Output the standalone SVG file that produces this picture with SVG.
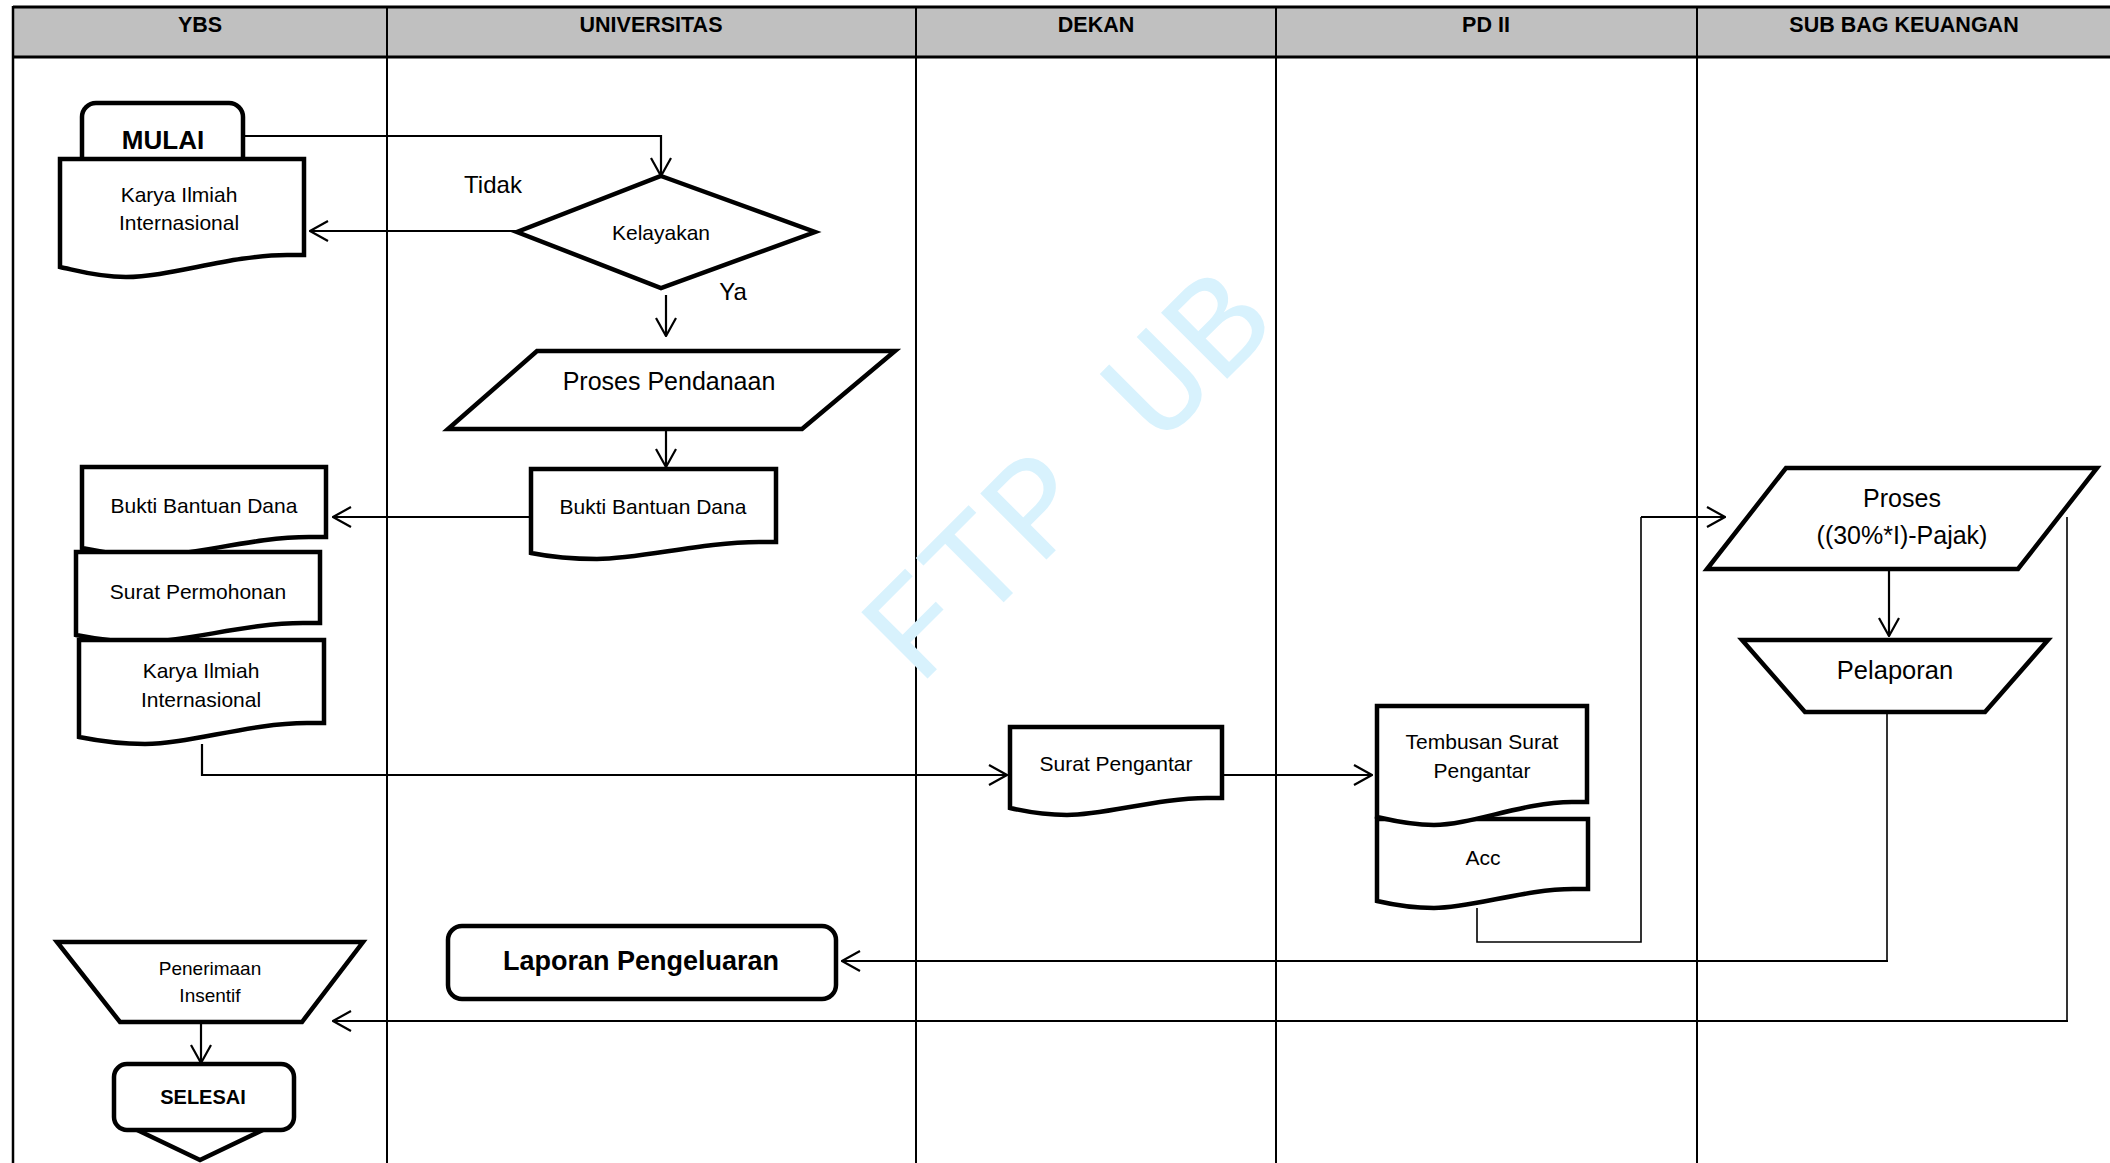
<svg xmlns="http://www.w3.org/2000/svg" width="2110" height="1163" viewBox="0 0 2110 1163">
<defs>
<marker id="arr" viewBox="0 0 20 22" refX="19" refY="11" markerWidth="20" markerHeight="22" markerUnits="userSpaceOnUse" orient="auto">
<path d="M1,1 L19,11 L1,21" fill="none" stroke="#000" stroke-width="2.2"/>
</marker>
<style>
.shape{fill:#fff;stroke:#000;stroke-width:4.5;stroke-linejoin:miter}
.lane{stroke:#000;stroke-width:2;fill:none}
.conn{fill:none;stroke:#000;stroke-width:2.2}
.thin{fill:none;stroke:#000;stroke-width:1.6}
.t{font-family:"Liberation Sans",Arial,sans-serif;fill:#000;text-anchor:middle}
.h{font-family:"Liberation Sans",Arial,sans-serif;font-weight:bold;font-size:21.5px;text-anchor:middle;fill:#000}
.b{font-weight:bold}
</style>
</defs>
<rect width="2110" height="1163" fill="#fff"/>
<g id="lanes">
<rect x="13" y="7" width="2100" height="50" fill="#c0c0c0"/>
<line x1="13" y1="7" x2="2110" y2="7" stroke="#000" stroke-width="3"/>
<line x1="13" y1="57" x2="2110" y2="57" stroke="#000" stroke-width="3"/>
<line x1="13" y1="6" x2="13" y2="1163" stroke="#000" stroke-width="2.5"/>
<line class="lane" x1="387" y1="7" x2="387" y2="1163"/>
<line class="lane" x1="916" y1="7" x2="916" y2="1163"/>
<line class="lane" x1="1276" y1="7" x2="1276" y2="1163"/>
<line class="lane" x1="1697" y1="7" x2="1697" y2="1163"/>
<text class="h" x="200" y="32">YBS</text>
<text class="h" x="651" y="32">UNIVERSITAS</text>
<text class="h" x="1096" y="32">DEKAN</text>
<text class="h" x="1486" y="32">PD II</text>
<text class="h" x="1904" y="32">SUB BAG KEUANGAN</text>
</g>
<text x="918" y="688" transform="rotate(-45 918 688)" font-family="'Liberation Mono','Courier New',monospace" font-size="142" fill="#d8f2fd">FTP UB</text>
<g id="connectors">
<path class="conn" d="M243,136 H661 V176" marker-end="url(#arr)"/>
<path class="conn" d="M517,231 H310" marker-end="url(#arr)"/>
<path class="conn" d="M666,295 V336" marker-end="url(#arr)"/>
<path class="conn" d="M666,431 V467" marker-end="url(#arr)"/>
<path class="conn" d="M531,517 H333" marker-end="url(#arr)"/>
<path class="conn" d="M202,744 V775 H1007" marker-end="url(#arr)"/>
<path class="conn" d="M1222,775 H1372" marker-end="url(#arr)"/>
<path class="thin" d="M1477,908 V942 H1641 V517"/>
<path class="conn" d="M1641,517 H1725" marker-end="url(#arr)"/>
<path class="conn" d="M1889,570 V636" marker-end="url(#arr)"/>
<path class="thin" d="M1887,713 V961"/>
<path class="conn" d="M1888,961 H842" marker-end="url(#arr)"/>
<path class="thin" d="M2067,517 V1021"/>
<path class="conn" d="M2068,1021 H333" marker-end="url(#arr)"/>
<path class="conn" d="M201,1022 V1063" marker-end="url(#arr)"/>
</g>
<g id="mulai">
<rect class="shape" x="82" y="103" width="161" height="80" rx="14"/>
<text class="t b" x="163" y="149" font-size="26">MULAI</text>
</g>
<g id="karya1">
<path class="shape" d="M60,159 H304 V255 H287 C231,255 170,277 126,277 C97,277 75,270 60,267 Z"/>
<text class="t" x="179" y="202" font-size="21">Karya Ilmiah</text>
<text class="t" x="179" y="230" font-size="21">Internasional</text>
</g>
<g id="kelayakan">
<polygon class="shape" points="661,176 815,232 661,288 517,232"/>
<text class="t" x="661" y="240" font-size="21">Kelayakan</text>
</g>
<g id="lbl-tidak"><text class="t" x="493" y="193" font-size="24">Tidak</text></g>
<g id="lbl-ya"><text class="t" x="733" y="300" font-size="24">Ya</text></g>
<g id="proses-pendanaan">
<polygon class="shape" points="537,351 895,351 802,429 448,429"/>
<text class="t" x="669" y="390" font-size="25">Proses Pendanaan</text>
</g>
<g id="bukti-univ">
<path class="shape" d="M531,469 H776 V542 H759 C702,542 641,559 597,559 C568,559 546,556 531,553 Z"/>
<text class="t" x="653" y="514" font-size="21">Bukti Bantuan Dana</text>
</g>
<g id="bukti-ybs">
<path class="shape" d="M82,467 H326 V537 H309 C253,537 192,556 148,556 C119,556 97,551 82,548 Z"/>
<text class="t" x="204" y="513" font-size="21">Bukti Bantuan Dana</text>
</g>
<g id="surat-permohonan">
<path class="shape" d="M76,552 H320 V623 H303 C247,623 186,642 142,642 C113,642 91,638 76,635 Z"/>
<text class="t" x="198" y="599" font-size="21">Surat Permohonan</text>
</g>
<g id="karya2">
<path class="shape" d="M79,640 H324 V723 H307 C250,723 189,744 145,744 C116,744 94,740 79,737 Z"/>
<text class="t" x="201" y="678" font-size="21">Karya Ilmiah</text>
<text class="t" x="201" y="707" font-size="21">Internasional</text>
</g>
<g id="surat-pengantar">
<path class="shape" d="M1010,727 H1222 V798 H1207 C1158,798 1105,815 1067,815 C1042,815 1023,811 1010,808 Z"/>
<text class="t" x="1116" y="771" font-size="21">Surat Pengantar</text>
</g>
<g id="acc">
<path class="shape" d="M1377,819 H1588 V889 H1573 C1525,889 1472,908 1434,908 C1409,908 1390,904 1377,901 Z"/>
<text class="t" x="1483" y="865" font-size="21">Acc</text>
</g>
<g id="tembusan">
<path class="shape" d="M1377,706 H1587 V802 H1572 C1524,802 1471,825 1434,825 C1409,825 1390,820 1377,817 Z"/>
<text class="t" x="1482" y="749" font-size="21">Tembusan Surat</text>
<text class="t" x="1482" y="778" font-size="21">Pengantar</text>
</g>
<g id="proses-pajak">
<polygon class="shape" points="1786,468 2097,468 2018,569 1707,569"/>
<text class="t" x="1902" y="507" font-size="25">Proses</text>
<text class="t" x="1902" y="544" font-size="25">((30%*I)-Pajak)</text>
</g>
<g id="pelaporan">
<polygon class="shape" points="1742,640 2048,640 1985,712 1805,712"/>
<text class="t" x="1895" y="679" font-size="25.5">Pelaporan</text>
</g>
<g id="laporan">
<rect class="shape" x="448" y="926" width="388" height="73" rx="14"/>
<text class="t b" x="641" y="970" font-size="27">Laporan Pengeluaran</text>
</g>
<g id="penerimaan">
<polygon class="shape" points="57,942 363,942 302,1022 120,1022"/>
<text class="t" x="210" y="975" font-size="19">Penerimaan</text>
<text class="t" x="210" y="1002" font-size="19">Insentif</text>
</g>
<g id="offpage">
<polyline points="133,1128 200,1160 267,1128" fill="none" stroke="#000" stroke-width="4.5"/>
</g>
<g id="selesai">
<rect class="shape" x="114" y="1064" width="180" height="66" rx="13"/>
<text class="t b" x="203" y="1104" font-size="20">SELESAI</text>
</g>
</svg>
